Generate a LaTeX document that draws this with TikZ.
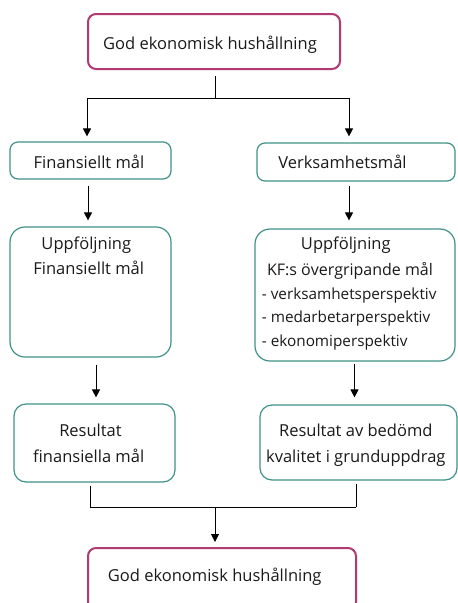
\documentclass[tikz,border=0pt]{standalone}
\usepackage{fontspec}
\setmainfont{Open Sans}
\usetikzlibrary{arrows.meta,calc}
\definecolor{pinkb}{HTML}{B23A72}
\definecolor{tealb}{HTML}{3F9189}
\definecolor{txt}{HTML}{1A1A1A}
\tikzset{
  pbox/.style={draw=pinkb,line width=2pt,rounded corners=8pt,inner sep=0pt,fill=white},
  tbox/.style={draw=tealb,line width=1.2pt,rounded corners=8pt,inner sep=0pt,fill=white},
  bbox/.style={draw=tealb,line width=1.2pt,rounded corners=15pt,inner sep=0pt,fill=white},
  lbl/.style={anchor=base,inner sep=0pt,text=txt,font=\fontsize{16.5}{20}\selectfont},
  lst/.style={anchor=base west,inner sep=0pt,text=txt,font=\fontsize{15.3}{18}\selectfont},
  conn/.style={line width=1pt,black},
  arr/.style={conn,-{Triangle[width=8pt,length=8pt]}},
}
\begin{document}
\begin{tikzpicture}[x=1pt,y=-1pt]
\useasboundingbox (0,0) rectangle (458,603);
% boxes
\node[pbox,minimum width=252pt,minimum height=55pt] (top) at (214,41.5) {};
\node[tbox,minimum width=161pt,minimum height=37pt] (fin) at (90.5,160.5) {};
\node[tbox,minimum width=198pt,minimum height=38pt] (verk) at (356,162) {};
\node[bbox,minimum width=161pt,minimum height=130pt] (uppf) at (90.5,292) {};
\node[bbox,minimum width=200pt,minimum height=132pt] (uppv) at (355,295) {};
\node[tbox,minimum width=161pt,minimum height=78pt,rounded corners=12pt] (resf) at (94.5,443) {};
\node[tbox,minimum width=197pt,minimum height=75pt,rounded corners=12pt] (resv) at (358.5,442.5) {};
\node[pbox,minimum width=268pt,minimum height=62pt] (bot) at (222,579) {};
% texts
\node[lbl] (t1) at (210,49) {God ekonomisk hushållning};
\node[lbl] (t2) at (89,168) {Finansiellt mål};
\node[lbl] (t3) at (342.5,168) {Verksamhetsmål};
\node[lbl] (t4) at (86.3,249) {Uppföljning};
\node[lbl] (t5) at (88.7,274) {Finansiellt mål};
\node[lbl] (t6) at (345.8,249) {Uppföljning};
\node[lbl,font=\fontsize{16}{20}\selectfont] (t7) at (350,275) {KF:s övergripande mål};
\node[lst] (t8) at (261.7,299.5) {- verksamhetsperspektiv};
\node[lst] (t9) at (261.7,322) {- medarbetarperspektiv};
\node[lst] (t10) at (261.7,346) {- ekonomiperspektiv};
\node[lbl] (t11) at (90.5,436.5) {Resultat};
\node[lbl] (t12) at (88.7,462.5) {finansiella mål};
\node[lbl] (t13) at (355.8,436.5) {Resultat av bedömd};
\node[lbl] (t14) at (355.8,462) {kvalitet i grunduppdrag};
\node[lbl] (t15) at (214.7,581) {God ekonomisk hushållning};
% connectors top
\coordinate (jl) at (87,98);
\coordinate (jr) at (349,98);
\coordinate (jm) at (215,98);
\draw[conn,shorten <=6pt] ([xshift=1pt]top.south) -- (jm);
\draw[conn] (jl) -- (jr);
\draw[arr,shorten >=5pt] (jl) -- (jl |- fin.north);
\draw[arr,shorten >=6pt] (jr) -- (jr |- verk.north);
% middle
\draw[arr,shorten <=6pt,shorten >=6pt] ([xshift=-2.5pt]fin.south) -- ([xshift=-2.5pt]fin.south |- uppf.north);
\draw[arr,shorten <=4pt,shorten >=8pt] ([xshift=-7pt]verk.south) -- ([xshift=-7pt]verk.south |- uppv.north);
\draw[arr,shorten <=7pt,shorten >=6pt] ([xshift=5.5pt]uppf.south) -- ([xshift=5.5pt]uppf.south |- resf.north);
\draw[arr,shorten <=2pt,shorten >=7pt] ([xshift=-0.5pt]uppv.south) -- ([xshift=-0.5pt]uppv.south |- resv.north);
% bottom
\coordinate (bl) at (90,507);
\coordinate (br) at (356,507);
\coordinate (bm) at (215,507);
\draw[conn,shorten <=3pt] (bl |- resf.south) -- (bl);
\draw[conn] (bl) -- (br);
\draw[conn,shorten <=3pt] (br |- resv.south) -- (br);
\draw[arr,shorten >=5pt] (bm) -- (bm |- bot.north);
\end{tikzpicture}
\end{document}
